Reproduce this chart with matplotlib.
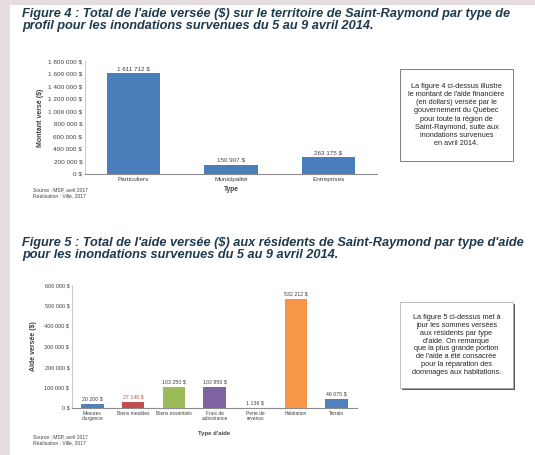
import matplotlib.pyplot as plt
from matplotlib.patches import Rectangle

plt.rcParams['font.family'] = ['Liberation Sans', 'DejaVu Sans']

W, H = 535, 455

# figure 4 data
profils = ['Particuliers', 'Municipalité', 'Entreprises']
montants_profil = [1611712, 150907, 263175]
etiquettes_profil = ['1 611 712 $', '150 907 $', '263 175 $']
ticks_profil = [0, 200000, 400000, 600000, 800000, 1000000, 1200000, 1400000, 1600000, 1800000]

# figure 5 data
types_aide = ['Mesures\nd\'urgence', 'Biens meubles', 'Biens essentiels', 'Frais de\nsubsistance\n',
              'Perte de\nrevenus', 'Habitation', 'Terrain']
montants_aide = [20200, 27148, 103250, 102850, 1136, 532212, 46075]
etiquettes_aide = ['20 200 $', '27 148 $', '103 250 $', '102 850 $', '1 136 $', '532 212 $', '46 075 $']
couleurs_aide = ['#4f81bd', '#c0504d', '#9bbb59', '#8064a2', '#4bacc6', '#f79646', '#4f81bd']
ticks_aide = [0, 100000, 200000, 300000, 400000, 500000, 600000]


def fx(x):
    return x / W


def fy(y):
    return 1 - y / H


def fmt(v):
    return '{:,}'.format(v).replace(',', ' ') + ' $'


fig = plt.figure(figsize=(5.35, 4.55), dpi=100, facecolor='#e6dde1')
fig.patches.append(Rectangle((fx(10), 0), 1 - fx(10), fy(5), transform=fig.transFigure,
                             facecolor='white', edgecolor='none', zorder=-10))

title_color = '#1f3a4d'
tkw = dict(fontsize=9.2, fontweight='bold', style='italic', color=title_color, va='center')
fig.text(fx(22), fy(14), "Figure 4 : Total de l'aide versée ($) sur le territoire de Saint-Raymond par type de", **tkw)
fig.text(fx(22), fy(26), "profil pour les inondations survenues du 5 au 9 avril 2014.", **tkw)
fig.text(fx(22), fy(243), "Figure 5 : Total de l'aide versée ($) aux résidents de Saint-Raymond par type d'aide", **tkw)
fig.text(fx(22), fy(255), "pour les inondations survenues du 5 au 9 avril 2014.", **tkw)


def style_axes(ax, size):
    for s in ['top', 'right']:
        ax.spines[s].set_visible(False)
    ax.spines['left'].set_color('#bfbfbf')
    ax.spines['bottom'].set_color('#8c8c8c')
    ax.spines['left'].set_linewidth(0.6)
    ax.spines['bottom'].set_linewidth(0.8)
    ax.tick_params(axis='both', length=0, labelsize=size, colors='#404040', pad=2)
    ax.set_facecolor('none')


# chart 1
ax1 = fig.add_axes([fx(85), fy(174), fx(377) - fx(85), fy(61) - fy(174)])
x1 = range(len(profils))
ax1.bar(x1, montants_profil, width=0.55, color='#4a7ebb')
for i, v in enumerate(montants_profil):
    ax1.text(i, v + 25000, etiquettes_profil[i], ha='center', va='bottom', fontsize=4.5, color='#404040')
ax1.set_xlim(-0.5, 2.5)
ax1.set_ylim(0, 1800000)
ax1.set_yticks(ticks_profil)
ax1.set_yticklabels([fmt(t) for t in ticks_profil])
ax1.set_xticks(list(x1))
ax1.set_xticklabels(profils)
style_axes(ax1, 4.6)
ax1.set_xlabel('Type', fontsize=4.8, fontweight='bold', labelpad=3, color='#404040')
ax1.set_ylabel('Montant versé ($)', fontsize=5, fontweight='bold', labelpad=3, color='#404040')

fig.text(fx(33), fy(190), "Source : MSP, avril 2017", fontsize=3.6, color='#404040', va='center')
fig.text(fx(33), fy(196), "Réalisation : Ville, 2017", fontsize=3.6, color='#404040', va='center')

# chart 2
ax2 = fig.add_axes([fx(72), fy(408), fx(357) - fx(72), fy(285) - fy(408)])
x2 = range(len(types_aide))
ax2.bar(x2, montants_aide, width=0.55, color=couleurs_aide)
for i, v in enumerate(montants_aide):
    ax2.text(i, v + 12000, etiquettes_aide[i], ha='center', va='bottom', fontsize=3.8,
             color='#c0504d' if i == 1 else '#404040')
ax2.set_xlim(-0.5, len(types_aide) - 0.5)
ax2.set_ylim(0, 600000)
ax2.set_yticks(ticks_aide)
ax2.set_yticklabels([fmt(t) for t in ticks_aide])
ax2.set_xticks(list(x2))
ax2.set_xticklabels(types_aide, linespacing=1.0)
style_axes(ax2, 4.0)
ax2.tick_params(axis='x', labelsize=3.5)
ax2.set_xlabel("Type d'aide", fontsize=4.3, fontweight='bold', color='#404040')
ax2.xaxis.set_label_coords(0.5, -0.19)
ax2.set_ylabel('Aide versée ($)', fontsize=5, fontweight='bold', labelpad=5, color='#404040')

fig.text(fx(33), fy(437), "Source : MSP, avril 2017", fontsize=3.6, color='#404040', va='center')
fig.text(fx(33), fy(443), "Réalisation : Ville, 2017", fontsize=3.6, color='#404040', va='center')

# text boxes
box1 = ("La figure 4 ci-dessus illustre\nle montant de l'aide financière\n"
        "(en dollars) versée par le\ngouvernement du Québec\npour toute la région de\n"
        "Saint-Raymond, suite aux\ninondations survenues\nen avril 2014.")
fig.patches.append(Rectangle((fx(400), fy(161)), fx(513) - fx(400), fy(69) - fy(161),
                             transform=fig.transFigure, facecolor='white', edgecolor='#7f7f7f', lw=0.7))
fig.text(fx(456.5), fy(115), box1, ha='center', va='center', fontsize=5.3, linespacing=1.25, color='#262626')

box2 = ("La figure 5 ci-dessus met à\njour les sommes versées\naux résidents par type\n"
        "d'aide. On remarque\nque la plus grande portion\nde l'aide a été consacrée\n"
        "pour la réparation des\ndommages aux habitations.")
fig.patches.append(Rectangle((fx(402), fy(390)), fx(515) - fx(402), fy(304) - fy(390),
                             transform=fig.transFigure, facecolor='#595959', edgecolor='none'))
fig.patches.append(Rectangle((fx(400), fy(388)), fx(513) - fx(400), fy(302) - fy(388),
                             transform=fig.transFigure, facecolor='white', edgecolor='#a6a6a6', lw=0.5))
fig.text(fx(456.5), fy(345), box2, ha='center', va='center', fontsize=5.3, linespacing=1.15, color='#262626')

fig.savefig('out.png', dpi=100, facecolor=fig.get_facecolor())
